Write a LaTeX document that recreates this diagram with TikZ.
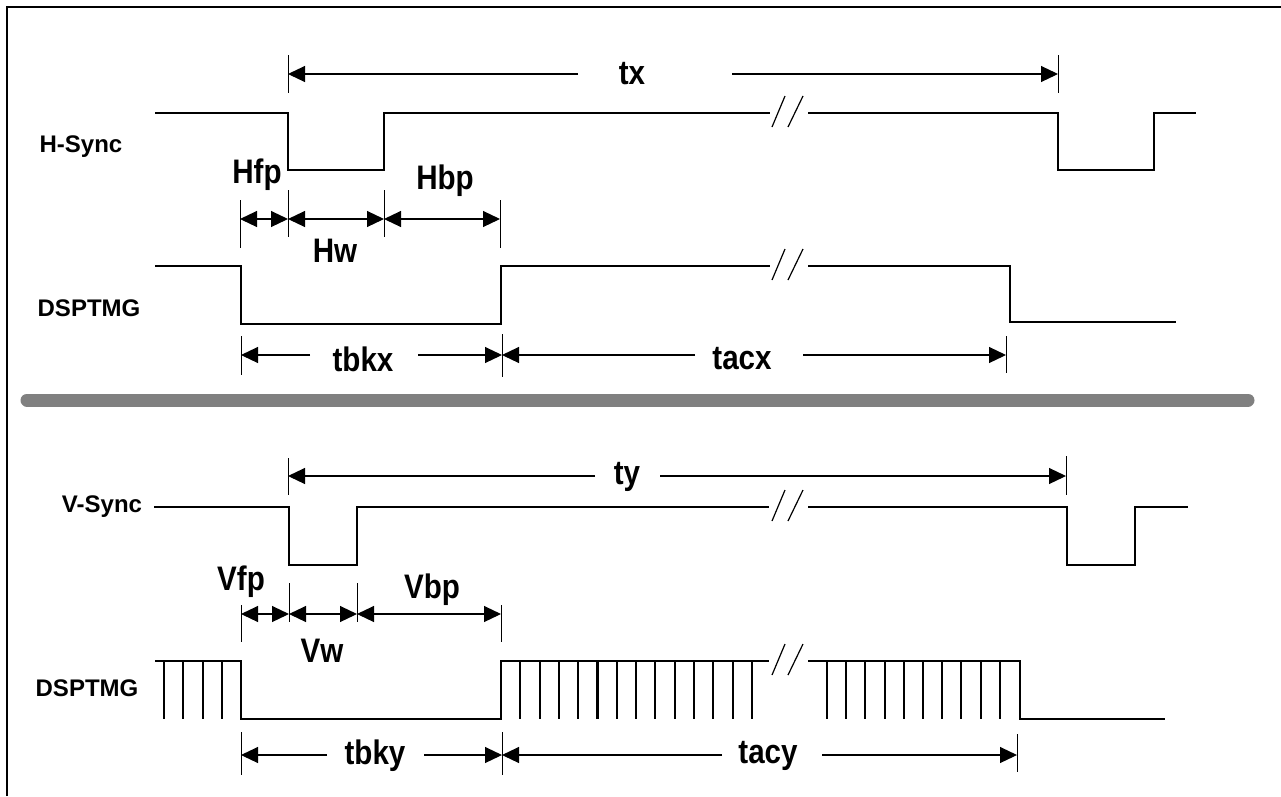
\documentclass[tikz,border=0pt]{standalone}
\usepackage{fontspec}
\setmainfont{Liberation Sans}
\usetikzlibrary{arrows.meta}
\begin{document}
\begin{tikzpicture}[x=1pt,y=-1pt,
  sig/.style={line width=2.4pt, line join=miter},
  pulse/.style={line width=2.1pt},
  dimline/.style={line width=1.1pt},
  tickline/.style={line width=1pt},
  arr/.style={dimline, -{Triangle[length=17pt,width=16pt]}},
  dbl/.style={dimline, {Triangle[length=17pt,width=16pt]}-{Triangle[length=17pt,width=16pt]}},
  brk/.style={line width=1.2pt},
  biglbl/.style={font=\bfseries\fontsize{34}{34}\selectfont, inner sep=0pt, xscale=0.87},
  siglbl/.style={font=\bfseries\fontsize{24}{24}\selectfont, inner sep=0pt}]
\useasboundingbox (0,0) rectangle (1281,796);
\definecolor{bargray}{RGB}{128,128,128}

% frame and separator
\draw[line width=2.4pt] (7,796) -- (7,7) -- (1281,7);
\draw[line width=13pt, bargray, line cap=round] (27,400) -- (1248,400);

% ---------------- top section ----------------
\node[siglbl] (hsync) at (81,147) {H-Sync};
\node[siglbl] (dsp1) at (89,308) {DSPTMG};

\draw[sig] (155,113) -- (288,113) -- (288,170) -- (384,170) -- (384,113) -- (770,113);
\draw[sig] (808,113) -- (1058,113) -- (1058,170) -- (1154,170) -- (1154,113) -- (1196,113);
\draw[brk] (772,127) -- (785,96) (788,127) -- (803,96);

\draw[sig] (155,266) -- (241,266) -- (241,324) -- (501,324) -- (501,266) -- (770,266);
\draw[sig] (808,266) -- (1010,266) -- (1010,322) -- (1176,322);
\draw[brk] (772,280) -- (785,249) (788,280) -- (803,249);

% tx
\coordinate (txA) at (288,74); \coordinate (txB) at (1058,74);
\coordinate (txA1) at (578,74); \coordinate (txB1) at (732,74);
\draw[tickline] (288,55) -- (288,93) (1058,55) -- (1058,93);
\node[biglbl] (tx) at (632,74) {tx};
\draw[arr] (txA1) -- (txA);
\draw[arr] (txB1) -- (txB);

% Hfp / Hw / Hbp
\coordinate (h1) at (240,219); \coordinate (h2) at (288,219);
\coordinate (h3) at (384,219); \coordinate (h4) at (500,219);
\draw[tickline] (240,200) -- (240,248) (288,190) -- (288,237)
                (384,190) -- (384,237) (500,200) -- (500,248);
\draw[dbl] (h1) -- (h2);
\draw[dbl] (h2) -- (h3);
\draw[dbl] (h3) -- (h4);
\node[biglbl] (hfp) at (257,175) {Hfp};
\node[biglbl] (hw) at (335,251) {Hw};
\node[biglbl] (hbp) at (445,181) {Hbp};

% tbkx / tacx
\coordinate (bx1) at (241,355); \coordinate (bx2) at (502,355); \coordinate (bx3) at (1006,355);
\coordinate (bx1a) at (310,355); \coordinate (bx2a) at (418,355);
\coordinate (bx2b) at (695,355); \coordinate (bx3a) at (803,355);
\draw[tickline] (241,336) -- (241,375) (502,334) -- (502,377) (1006,336) -- (1006,373);
\draw[arr] (bx1a) -- (bx1);
\draw[arr] (bx2a) -- (bx2);
\draw[arr] (bx2b) -- (bx2);
\draw[arr] (bx3a) -- (bx3);
\node[biglbl] (tbkx) at (363,359) {tbkx};
\node[biglbl] (tacx) at (742,359) {tacx};

% ---------------- bottom section ----------------
\node[siglbl] (vsync) at (102,507) {V-Sync};
\node[siglbl] (dsp2) at (87,688) {DSPTMG};

\draw[sig] (154,507) -- (289,507) -- (289,565) -- (357,565) -- (357,507) -- (769,507);
\draw[sig] (808,507) -- (1067,507) -- (1067,565) -- (1135,565) -- (1135,507) -- (1188,507);
\draw[brk] (772,521) -- (785,490) (788,521) -- (803,490);

\draw[sig] (155,661) -- (241,661) -- (241,719) -- (501,719) -- (501,661) -- (769,661);
\draw[sig] (808,661) -- (1020,661) -- (1020,719) -- (1165,719);
\draw[brk] (772,675) -- (785,644) (788,675) -- (803,644);
\foreach \x in {164,183,203,222} \draw[pulse] (\x,661) -- (\x,719);
\foreach \k in {1,...,13} \draw[pulse] ({501+19.3*\k},661) -- ({501+19.3*\k},719);
\foreach \k in {0,...,9} \draw[pulse] ({827+19.2*\k},661) -- ({827+19.2*\k},719);

% ty
\coordinate (tyA) at (288,476); \coordinate (tyB) at (1066,476);
\coordinate (tyA1) at (595,476); \coordinate (tyB1) at (660,476);
\draw[tickline] (288,458) -- (288,495) (1066,456) -- (1066,495);
\node[biglbl] (ty) at (627,477) {ty};
\draw[arr] (tyA1) -- (tyA);
\draw[arr] (tyB1) -- (tyB);

% Vfp / Vw / Vbp
\coordinate (v1) at (241,614); \coordinate (v2) at (289,614);
\coordinate (v3) at (357,614); \coordinate (v4) at (501,614);
\draw[tickline] (241,605) -- (241,642) (289,583) -- (289,622)
                (357,583) -- (357,622) (501,605) -- (501,642);
\draw[dbl] (v1) -- (v2);
\draw[dbl] (v2) -- (v3);
\draw[dbl] (v3) -- (v4);
\node[biglbl] (vfp) at (241,582) {Vfp};
\node[biglbl] (vw) at (322,651) {Vw};
\node[biglbl] (vbp) at (432,590) {Vbp};

% tbky / tacy
\coordinate (by1) at (241,755); \coordinate (by2) at (502,755); \coordinate (by3) at (1017,755);
\coordinate (by1a) at (327,755); \coordinate (by2a) at (424,755);
\coordinate (by2b) at (722,755); \coordinate (by3a) at (822,755);
\draw[tickline] (241,732) -- (241,775) (502,732) -- (502,775) (1017,734) -- (1017,772);
\draw[arr] (by1a) -- (by1);
\draw[arr] (by2a) -- (by2);
\draw[arr] (by2b) -- (by2);
\draw[arr] (by3a) -- (by3);
\node[biglbl] (tbky) at (375,756) {tbky};
\node[biglbl] (tacy) at (768,756) {tacy};
\end{tikzpicture}
\end{document}
